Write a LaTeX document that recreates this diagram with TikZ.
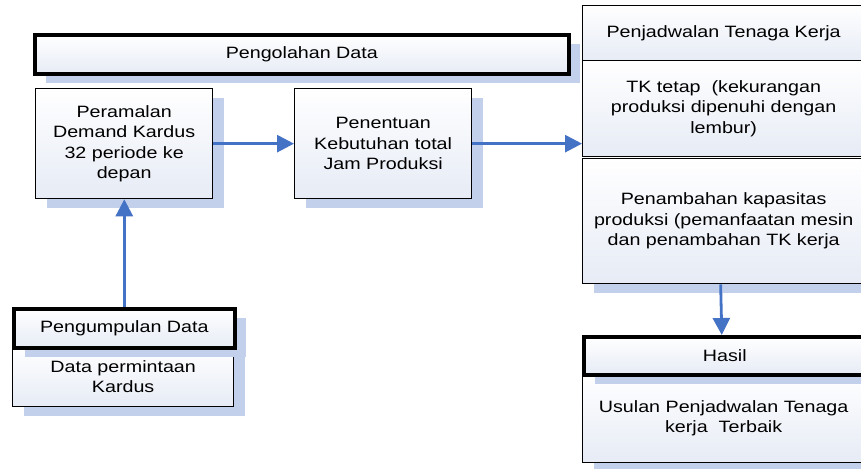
\documentclass[tikz,border=0pt]{standalone}
\usepackage{fontspec}
\setmainfont{Liberation Sans}[FakeStretch=1.2]
\usetikzlibrary{shadows, arrows.meta}

\definecolor{bayang}{RGB}{194,208,236}
\definecolor{isibawah}{RGB}{230,235,245}
\definecolor{panahbiru}{RGB}{68,114,196}

\tikzset{
    kotak/.style={draw, line width=1.3pt, top color=white, bottom color=isibawah,
        align=center, inner sep=2pt, anchor=north west,
        font=\fontsize{16.4}{20.5}\selectfont},
    bayangan/.style={drop shadow={shadow xshift=11pt, shadow yshift=-9pt, fill=bayang, opacity=1}},
    judul/.style={kotak, line width=3.6pt},
    panah/.style={draw=panahbiru, line width=2.8pt, -{Triangle[length=17pt, width=17pt]}}
}

\begin{document}
\begin{tikzpicture}[x=1pt, y=-1pt]
    \useasboundingbox (0,0) rectangle (861,468);

    \node[judul, bayangan, minimum width=534pt, minimum height=39pt] (olah) at (33,33) {Pengolahan Data};

    \node[kotak, bayangan, minimum width=177pt, minimum height=110pt] (ramal) at (35,88) {Peramalan\\Demand Kardus\\32 periode ke\\depan};
    \node[kotak, bayangan, minimum width=177pt, minimum height=110pt] (tentu) at (294,88) {Penentuan\\Kebutuhan total\\Jam Produksi};

    \node[kotak, minimum width=282pt, minimum height=55pt] (jadwal) at (582,5) {Penjadwalan Tenaga Kerja};
    \node[kotak, minimum width=282pt, minimum height=96pt] (tetap) at (582,60) {TK tetap\ \ (kekurangan\\produksi dipenuhi dengan\\lembur)};
    \node[kotak, bayangan, minimum width=282pt, minimum height=125pt] (tambah) at (582,158) {Penambahan kapasitas\\produksi (pemanfaatan mesin\\dan penambahan TK kerja};

    \node[kotak, bayangan, minimum width=282pt, minimum height=89pt] (usulan) at (582,373) {Usulan Penjadwalan Tenaga\\kerja\ \ Terbaik};
    \node[judul, bayangan, minimum width=282pt, minimum height=38pt] (hasil) at (582,335) {Hasil};

    \node[kotak, bayangan, minimum width=221pt, minimum height=60pt] (minta) at (12,346) {Data permintaan\\Kardus};
    \node[judul, bayangan, minimum width=221pt, minimum height=39pt] (kumpul) at (12,307) {Pengumpulan Data};

    \draw[panah] (ramal.east) -- (tentu.west);
    \draw[panah] (tentu.east) -- (tentu.east -| tetap.west);
    \draw[panah] (kumpul.north) -- (kumpul.north |- ramal.south);
    \draw[panah] ([xshift=-3pt]tambah.south) -- ([xshift=-3pt]hasil.north);
\end{tikzpicture}
\end{document}
